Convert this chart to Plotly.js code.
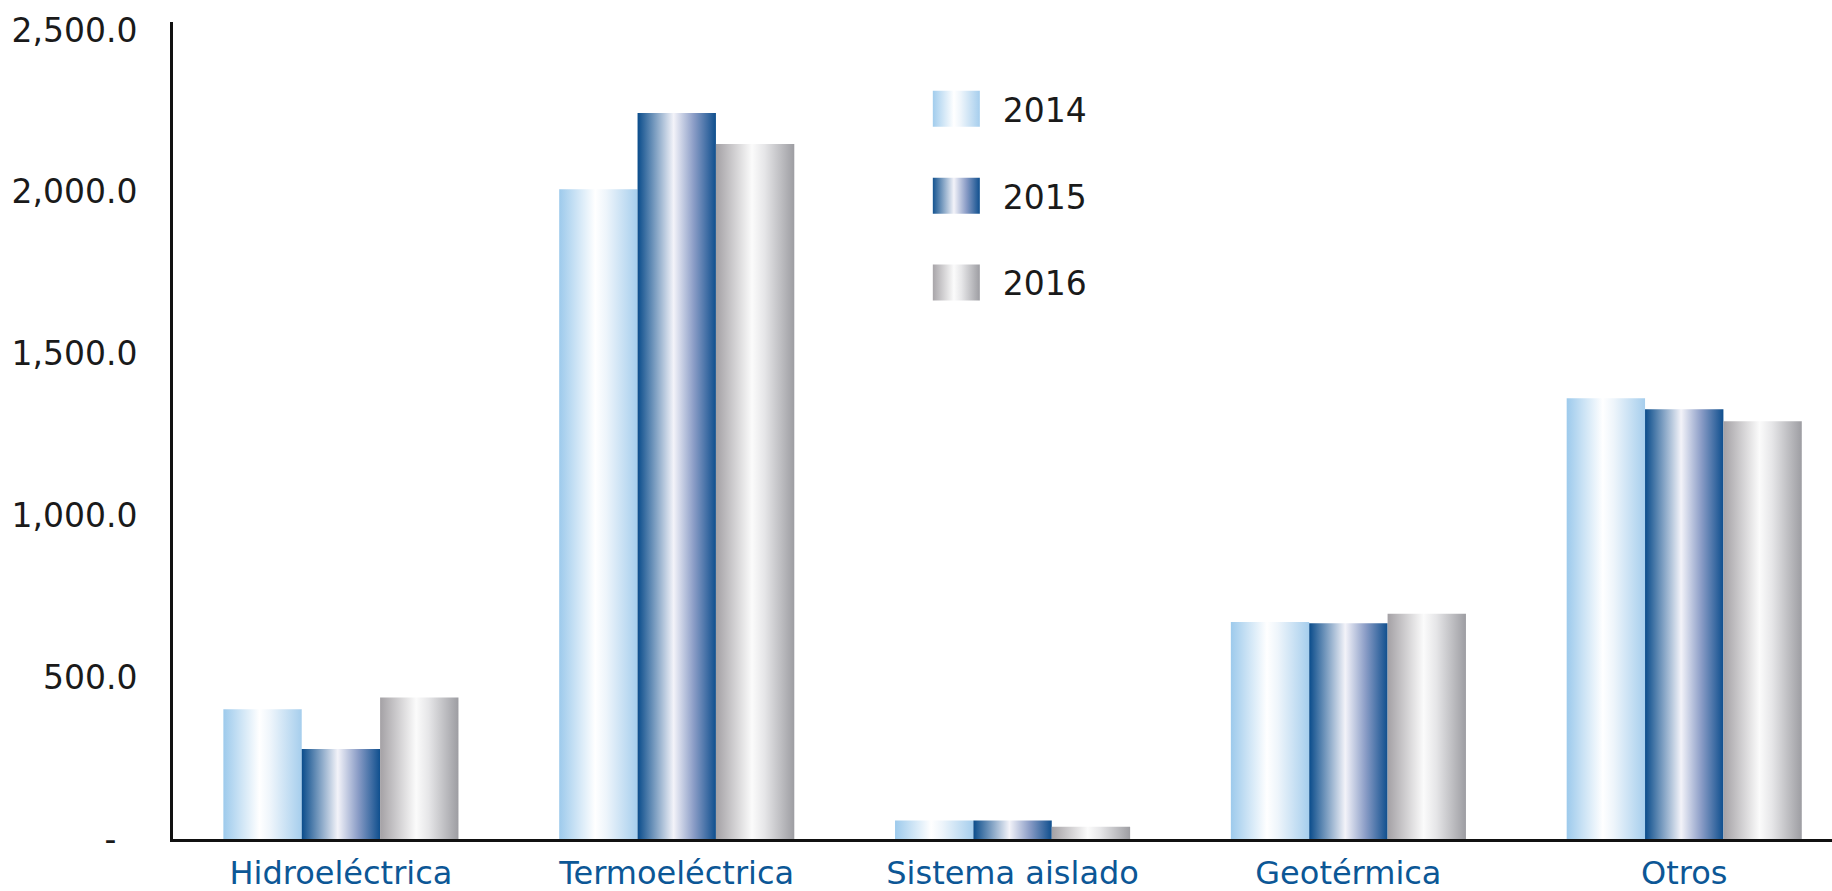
<!DOCTYPE html>
<html>
<head>
<meta charset="utf-8">
<script src="https://cdn.plot.ly/plotly-3.0.1.min.js"></script>
<style>
  html, body { margin: 0; padding: 0; background: #ffffff; }
  #chart { width: 1832px; height: 891px; }
</style>
</head>
<body>
<div id="chart"></div>
<script>
// ---- data ----
const categories = ["Hidroeléctrica", "Termoeléctrica", "Sistema aislado", "Geotérmica", "Otros"];
const years = ["2014", "2015", "2016"];
const values2014 = [401, 2008, 57, 671, 1362];
const values2015 = [278, 2244, 57, 667, 1328];
const values2016 = [437, 2148, 38, 696, 1291];
const yTickValues = [0, 500, 1000, 1500, 2000, 2500];
const yTickLabels = ["-\u00a0\u00a0", "500.0", "1,000.0", "1,500.0", "2,000.0", "2,500.0"];

// ---- styles ----
const gradients = [
  [[0, "#9dcaec"], [0.46, "#ffffff"], [0.6, "#eef5fb"], [1, "#a6ceed"]],
  [[0, "#0a4c8b"], [0.46, "#f3f3f9"], [0.72, "#8a9cc6"], [1, "#0f4f8e"]],
  [[0, "#a4a1a5"], [0.46, "#fbfbfb"], [0.62, "#e6e6e8"], [1, "#9d9da2"]]
];
const baseColors = ["#a6ceed", "#1f5a96", "#b0b0b4"];
const seriesValues = [values2014, values2015, values2016];

const traces = seriesValues.map((vals, i) => ({
  type: "bar",
  name: years[i],
  x: categories,
  y: vals,
  legendgroup: "g" + i,
  marker: { color: baseColors[i], line: { width: 0 } },
  hoverinfo: "x+y+name"
}));

const layout = {
  width: 1832,
  height: 891,
  margin: { l: 173, r: 0, t: 22, b: 52, pad: 0 },
  paper_bgcolor: "#ffffff",
  plot_bgcolor: "#ffffff",
  font: { family: "DejaVu Sans, Verdana, sans-serif", size: 33, color: "#1a1a1a" },
  barmode: "group",
  bargap: 0.3,
  bargroupgap: 0,
  showlegend: true,
  legend: {
    x: 0.458, xanchor: "left",
    y: 0.928, yanchor: "top",
    bgcolor: "rgba(0,0,0,0)",
    font: { family: "DejaVu Sans, Verdana, sans-serif", size: 33, color: "#1a1a1a" },
    tracegroupgap: 41,
    itemwidth: 60,
    traceorder: "grouped"
  },
  xaxis: {
    type: "category",
    range: [-0.5, 4.44],
    showline: true,
    linecolor: "#111111",
    linewidth: 3,
    showgrid: false,
    zeroline: false,
    ticks: "",
    tickfont: { family: "DejaVu Sans, Verdana, sans-serif", size: 32, color: "#0c5796" },
    ticklabelstandoff: 4,
    automargin: false,
    fixedrange: true
  },
  yaxis: {
    range: [0, 2525],
    showline: true,
    linecolor: "#111111",
    linewidth: 3,
    showgrid: false,
    zeroline: false,
    ticks: "",
    tickmode: "array",
    tickvals: yTickValues,
    ticktext: yTickLabels,
    tickfont: { family: "DejaVu Sans, Verdana, sans-serif", size: 33, color: "#1a1a1a" },
    ticklabelstandoff: 26,
    automargin: false,
    fixedrange: true
  }
};

function applyGradients(gd) {
  const svg = gd.querySelector("svg.main-svg");
  const ns = "http://www.w3.org/2000/svg";
  let defs = svg.querySelector("defs");
  if (!defs) { defs = document.createElementNS(ns, "defs"); svg.insertBefore(defs, svg.firstChild); }
  gradients.forEach((stops, i) => {
    const id = "barGrad" + i;
    if (document.getElementById(id)) return;
    const lg = document.createElementNS(ns, "linearGradient");
    lg.setAttribute("id", id);
    lg.setAttribute("x1", "0"); lg.setAttribute("y1", "0");
    lg.setAttribute("x2", "1"); lg.setAttribute("y2", "0");
    stops.forEach(([o, c]) => {
      const s = document.createElementNS(ns, "stop");
      s.setAttribute("offset", o);
      s.setAttribute("stop-color", c);
      lg.appendChild(s);
    });
    defs.appendChild(lg);
  });
  const barTraces = gd.querySelectorAll(".barlayer .trace.bars");
  barTraces.forEach((t, i) => {
    t.querySelectorAll("path").forEach(p => { p.style.fill = "url(#barGrad" + i + ")"; });
  });
  const legendTraces = gd.querySelectorAll(".legend .traces");
  legendTraces.forEach((t, i) => {
    t.querySelectorAll(".legendpoints path").forEach(p => {
      p.setAttribute("d", "M-36,-18H12V18H-36Z");
      p.style.fill = "url(#barGrad" + i + ")";
      p.style.stroke = "none";
    });
  });
}

Plotly.newPlot("chart", traces, layout, { staticPlot: true, displayModeBar: false })
  .then(gd => applyGradients(gd));
</script>
</body>
</html>
